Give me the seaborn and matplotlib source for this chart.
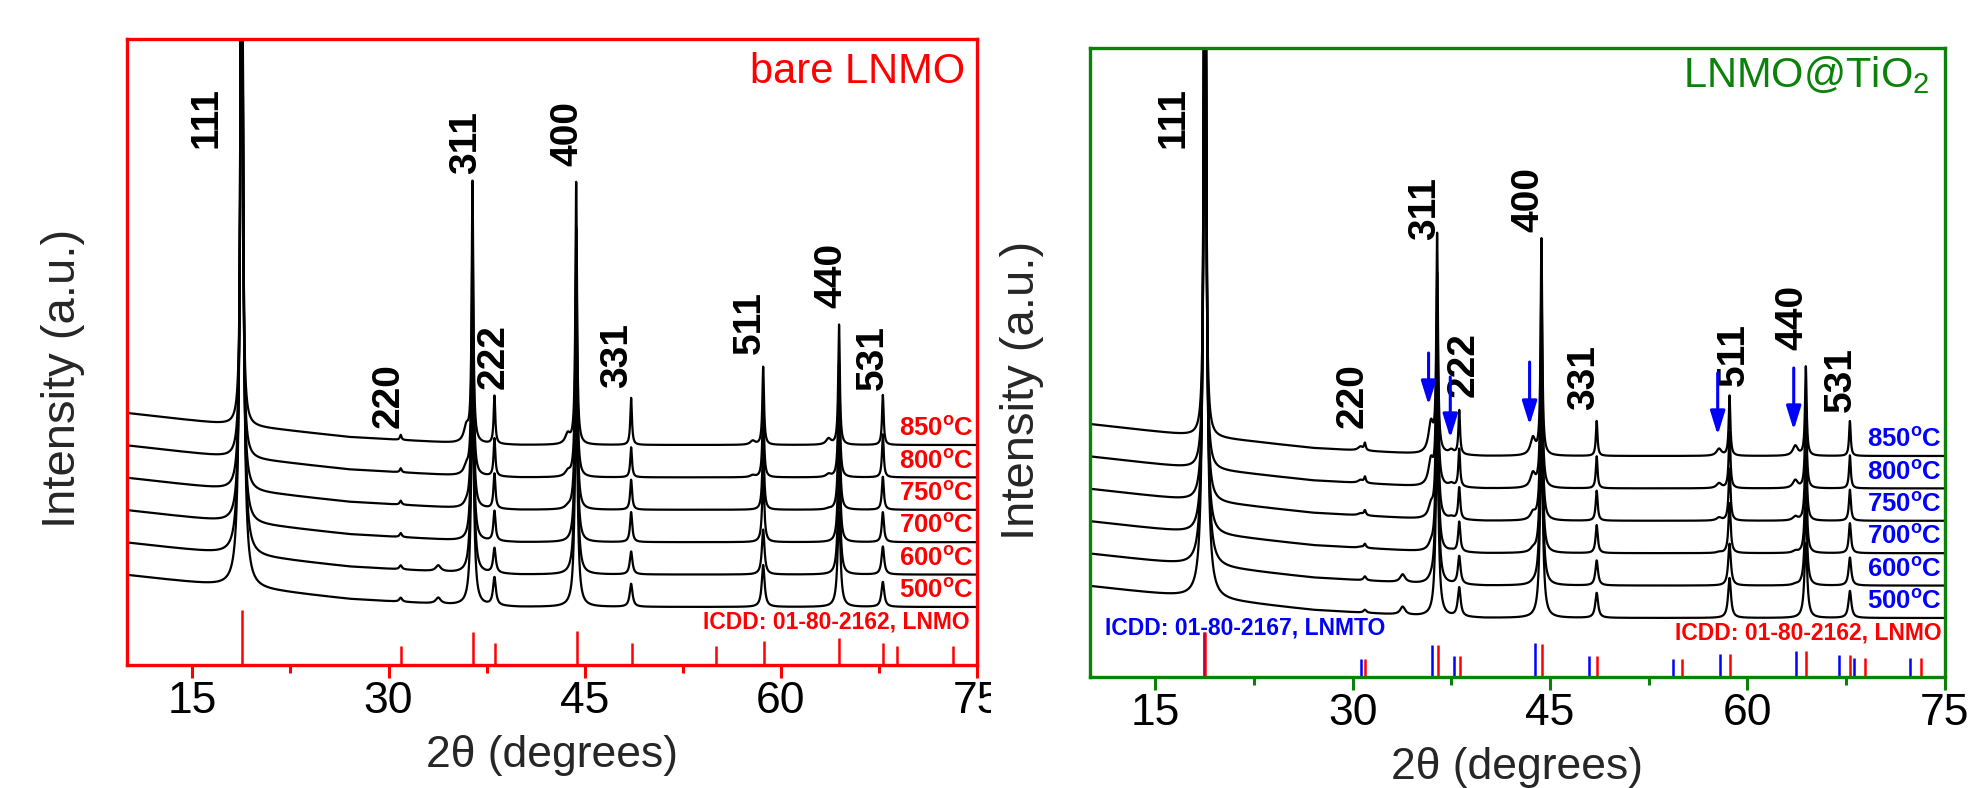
import numpy as np
import pandas as pd
import matplotlib
matplotlib.use("Agg")
import matplotlib.pyplot as plt
import seaborn as sns
from matplotlib.ticker import MultipleLocator, FixedLocator
from matplotlib.patches import Rectangle

# ---------------------------------------------------------------- data
temps = ["500", "600", "700", "750", "800", "850"]
hkl = ["111", "220", "311", "222", "400", "331", "511", "440", "531"]
lnmo_pos = [18.77, 30.93, 36.42, 38.10, 44.35, 48.55, 58.65, 64.45, 67.80]

# LNMO reflection heights above baseline, rows = 500 ... 850 C
bare_heights = [
    [800, 4, 210, 28, 210, 23, 42, 95, 25],
    [800, 4, 220, 25, 220, 23, 45, 100, 28],
    [800, 4, 235, 30, 235, 30, 65, 110, 30],
    [800, 4, 240, 35, 240, 30, 65, 112, 33],
    [800, 4, 250, 38, 250, 30, 73, 115, 43],
    [800, 5, 260, 48, 262, 47, 78, 120, 50],
]
coated_heights = [
    [800, 3, 180, 29, 180, 25, 40, 75, 27],
    [800, 4, 190, 28, 190, 25, 42, 78, 28],
    [800, 4, 200, 30, 200, 28, 50, 82, 30],
    [800, 5, 205, 32, 205, 30, 52, 84, 31],
    [800, 6, 210, 38, 210, 32, 56, 86, 33],
    [800, 7, 216, 44, 216, 35, 60, 89, 35],
]
bare_fwhm = [0.26, 0.24, 0.20, 0.18, 0.16, 0.15]
coated_fwhm = [0.26, 0.24, 0.20, 0.18, 0.16, 0.15]

# LNMTO (Ti-substituted) shoulder reflections
lnmto_shoulder_pos = [30.60, 35.95, 37.50, 43.70, 57.85, 63.65, 33.80]
bare_shoulder_h = [
    [0, 0, 0, 0, 0, 0, 6],
    [0, 0, 0, 0, 0, 0, 6],
    [0, 0, 0, 0, 0, 0, 0],
    [0, 3, 0, 2, 0, 1, 0],
    [0, 8, 0, 5, 2, 3, 0],
    [0, 15, 0, 10, 4, 6, 0],
]
coated_shoulder_h = [
    [0, 0, 0, 0, 0, 0, 8],
    [0, 2, 0, 1, 0, 1, 8],
    [1, 5, 1, 3, 1, 2, 0],
    [2, 12, 2, 7, 3, 4, 0],
    [3, 25, 3, 14, 5, 8, 0],
    [4, 30, 4, 17, 7, 10, 0],
]

# amorphous background (above flat baseline)
bg_x = [10, 14, 18, 22, 27, 31, 35, 40, 75]
bg_y = [32, 26, 20, 15, 8, 5, 2, 0, 0]

# ICDD reference patterns
icdd_lnmo_pos = [18.77, 30.93, 36.47, 38.14, 44.41, 48.58, 55.05, 58.68, 64.46, 67.79, 68.92, 73.19]
icdd_lnmo_h_left = [55, 19, 33, 22, 34, 22, 19, 24, 27, 22, 19, 19]
icdd_lnmo_h_right = [45, 18, 32, 21, 33, 21, 18, 23, 26, 22, 19, 19]
icdd_lnmto_pos = [18.66, 30.63, 36.03, 37.72, 43.83, 48.00, 54.39, 57.96, 63.69, 67.00, 68.10, 72.36]
icdd_lnmto_h = [45, 18, 32, 21, 34, 21, 18, 23, 26, 22, 19, 19]

# LNMTO markers (arrows) in the coated panel
arrow_pos = [35.77, 37.42, 43.45, 57.75, 63.53]

# ---------------------------------------------------------------- style
sns.set_theme(style="white")
plt.rcParams["font.family"] = ["Liberation Sans", "DejaVu Sans"]
plt.rcParams["mathtext.default"] = "regular"

RED = "#ff0000"
GREEN = "#0a820a"
BLUE = "#0000ff"

W, H = 1969, 788
fig = plt.figure(figsize=(W / 100, H / 100), dpi=100)
fig.patch.set_facecolor("white")

axL = fig.add_axes([127 / W, (H - 665) / H, 850 / W, 626 / H])
axR = fig.add_axes([1089.6 / W, (H - 677) / H, 855 / W, 629 / H])

x = np.arange(10, 75.0001, 0.01)
bg = np.interp(x, bg_x, bg_y)


def lorentz(xx, pos, heights, fwhm):
    out = np.zeros_like(xx)
    hw = fwhm / 2.0
    for p, h in zip(pos, heights):
        out += h / (1.0 + ((xx - p) / hw) ** 2)
    return out


SPACING = 32.4


def draw_panel(ax, heights, fwhm, sh_h, base0, ymax, frame_color, tcolor):
    for i, t in enumerate(temps):
        off = base0 + SPACING * i
        y = (bg + lorentz(x, lnmo_pos, heights[i], fwhm[i])
             + lorentz(x, lnmto_shoulder_pos, sh_h[i], 0.45) + off)
        df = pd.DataFrame({"two_theta": x, "I": y})
        sns.lineplot(data=df, x="two_theta", y="I", ax=ax, color="black",
                     lw=1.6, estimator=None, sort=False, legend=False)
        ax.text(74.75, off + 16, t + "$^{o}$C", ha="right", va="center",
                color=tcolor, fontsize=18.5, fontweight="bold")
    ax.set_xlim(10, 75)
    ax.set_ylim(0, ymax)
    ax.set_xlabel("")
    ax.set_ylabel("")
    for s in ax.spines.values():
        s.set_color(frame_color)
        s.set_linewidth(2.4)
        s.set_visible(True)
    ax.set_yticks([])
    ax.xaxis.set_major_locator(FixedLocator([15, 30, 45, 60, 75]))
    ax.xaxis.set_minor_locator(MultipleLocator(7.5))
    ax.tick_params(axis="x", which="major", direction="out", length=9.5,
                   width=2.2, color=frame_color, labelsize=32, pad=2,
                   labelcolor="black", bottom=True)
    ax.tick_params(axis="x", which="minor", direction="out", length=6,
                   width=2.2, color=frame_color, bottom=True)
    ax.set_xlabel("2\u03b8 (degrees)", fontsize=32)
    ax.xaxis.label.set_va("center")
    ax.xaxis.set_label_coords(0.5, -90 / ymax)
    ax.set_ylabel("Intensity (a.u.)", fontsize=34)
    ax.yaxis.label.set_va("center")


# ---------------- left: bare LNMO
draw_panel(axL, bare_heights, bare_fwhm, bare_shoulder_h, 58, 626, RED, RED)
axL.yaxis.set_label_coords(-0.075, 0.458)
axL.vlines(icdd_lnmo_pos, 0, icdd_lnmo_h_left, color=RED, lw=1.8)
axL.text(74.4, 43, "ICDD: 01-80-2162, LNMO", ha="right", va="center",
         color=RED, fontsize=16.5, fontweight="bold")
axL.text(0.986, 0.930, "bare LNMO", transform=axL.transAxes, ha="right",
         va="baseline", color=RED, fontsize=30)
left_labels = {
    "111": (16.1, 548), "220": (30.0, 269), "311": (35.9, 523),
    "222": (38.0, 308), "400": (43.7, 531), "331": (47.5, 310),
    "511": (57.6, 342), "440": (63.9, 390), "531": (67.0, 308),
}
for lab, (lx, ly) in left_labels.items():
    axL.text(lx, ly, lab, rotation=90, ha="center", va="center",
             fontsize=28, fontweight="bold", color="black")

# ---------------- right: LNMO@TiO2
draw_panel(axR, coated_heights, coated_fwhm, coated_shoulder_h, 59, 629, GREEN, BLUE)
axR.yaxis.set_label_coords(-0.079, 0.456)
axR.vlines(icdd_lnmto_pos, 0, icdd_lnmto_h, color=BLUE, lw=1.8)
axR.vlines(icdd_lnmo_pos, 0, icdd_lnmo_h_right, color=RED, lw=1.8)
axR.text(11.2, 48.5, "ICDD: 01-80-2167, LNMTO", ha="left", va="center",
         color=BLUE, fontsize=16.5, fontweight="bold", zorder=1)
axR.text(74.8, 44, "ICDD: 01-80-2162, LNMO", ha="right", va="center",
         color=RED, fontsize=16.5, fontweight="bold")
axR.text(0.983, 0.938, "LNMO@TiO$_{2}$", transform=axR.transAxes, ha="right",
         va="baseline", color=GREEN, fontsize=30)
right_labels = {
    "111": (16.36, 560), "220": (30.0, 281), "311": (35.5, 469),
    "222": (38.4, 312), "400": (43.35, 478), "331": (47.6, 299),
    "511": (59.0, 322), "440": (63.4, 360), "531": (67.1, 298),
}
for lab, (lx, ly) in right_labels.items():
    axR.text(lx, ly, lab, rotation=90, ha="center", va="center",
             fontsize=28, fontweight="bold", color="black")

arrow_top = [324, 300, 315, 304, 309]
arrow_tip = [272, 239, 252, 242, 247]
for ax_x, yt, yb in zip(arrow_pos, arrow_top, arrow_tip):
    axR.annotate("", xy=(ax_x, yb), xytext=(ax_x, yt),
                 arrowprops=dict(arrowstyle="-|>,head_length=0.45,head_width=0.14",
                                 color=BLUE, lw=2.2, mutation_scale=32,
                                 shrinkA=0, shrinkB=0))

# the left "75" label is cut by the neighbouring panel in the original
fig.add_artist(Rectangle((991 / W, (H - 745) / H), 12 / W, 70 / H,
                         transform=fig.transFigure, facecolor="white",
                         edgecolor="none", zorder=10))

fig.savefig("out.png", dpi=100, facecolor="white")
